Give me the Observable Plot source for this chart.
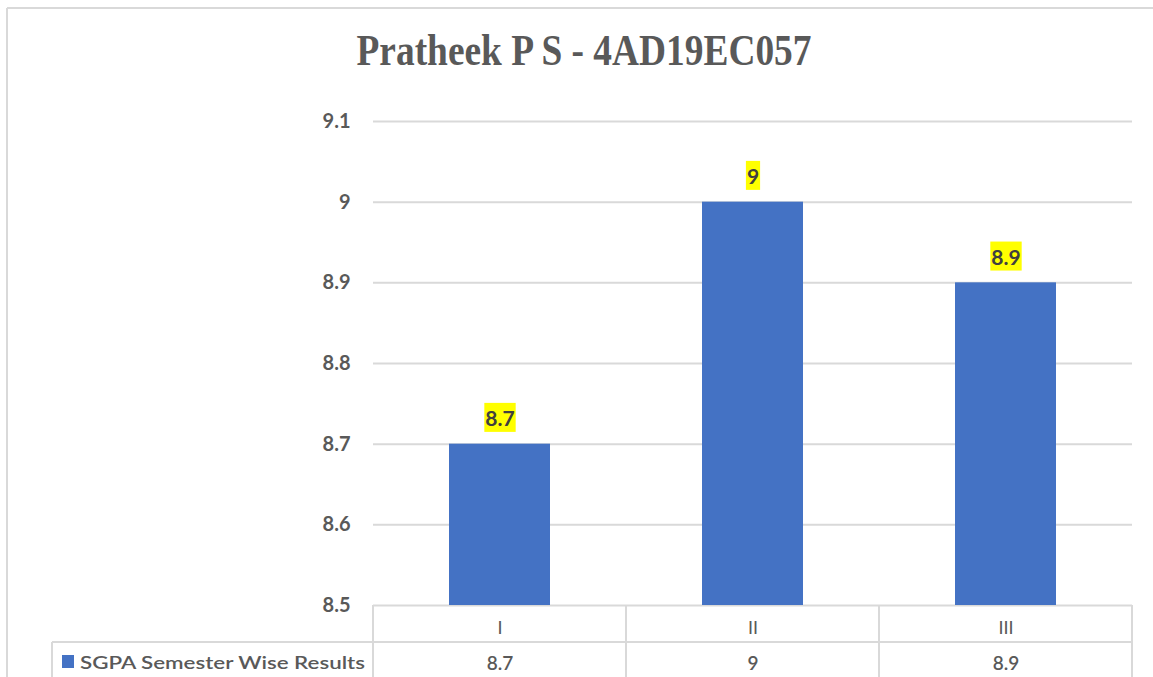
<!DOCTYPE html>
<html><head><meta charset="utf-8">
<script src="https://cdn.jsdelivr.net/npm/d3@7"></script>
<script src="https://cdn.jsdelivr.net/npm/@observablehq/plot@0.6"></script>
<style>
body{margin:0;background:#fff;}
#chart{position:relative;width:1153px;height:677px;overflow:hidden;}
</style></head><body><div id="chart"></div>
<script>
const title = "Pratheek P S - 4AD19EC057";
const semesters = ["I", "II", "III"];
const sgpa = [8.7, 9, 8.9];
const seriesName = "SGPA Semester Wise Results";
const yTicks = [8.5, 8.6, 8.7, 8.8, 8.9, 9.0, 9.1];
const barColor = "#4472C4";

const data = semesters.map((s, i) => ({sem: s, sgpa: sgpa[i]}));
const font = "Lato, 'Open Sans', sans-serif";
const grey = "#595959";
const lineC = "#d9d9d9";

const plot = Plot.plot({
  width: 1153, height: 677,
  marginLeft: 373, marginRight: 21, marginTop: 121, marginBottom: 72,
  style: {fontFamily: font, background: "white", overflow: "visible"},
  x: {domain: semesters, paddingInner: 0.6, paddingOuter: 0.3, axis: null},
  y: {domain: [8.5, 9.1], axis: null},
  marks: [
    Plot.gridY(yTicks, {stroke: lineC, strokeOpacity: 1, strokeWidth: 2}),
    Plot.axisY(yTicks, {tickSize: 0, tickPadding: 23, fontSize: 20, fontWeight: "bold", fill: grey,
      tickFormat: d => String(+d.toFixed(1)), label: null}),
    Plot.barY(data, {x: "sem", y1: 8.5, y2: "sgpa", fill: barColor}),
    Plot.text(data, {x: "sem", y: "sgpa", text: d => String(d.sgpa), dy: -25, lineAnchor: "middle",
      fontSize: 21, fontWeight: "bold", fill: "#404040", ariaDescription: "dlabel"}),
    Plot.text(data, {x: "sem", text: "sem", frameAnchor: "bottom", dy: 23, lineAnchor: "middle",
      fontSize: 18, fill: grey}),
    Plot.text(data, {x: "sem", text: d => String(d.sgpa), frameAnchor: "bottom", dy: 58, lineAnchor: "middle",
      fontSize: 19, fontWeight: 600, fill: grey})
  ]
});

document.getElementById("chart").appendChild(plot);
const svg = d3.select(plot);

// yellow highlight behind data labels
svg.selectAll('g[aria-description="dlabel"] text').each(function() {
  const b = this.getBBox();
  const t = this.getAttribute("transform");
  d3.select(this.parentNode).insert("rect", () => this)
    .attr("transform", t)
    .attr("x", b.x - 1).attr("y", b.y - 2).attr("width", b.width + 2).attr("height", b.height + 4)
    .attr("fill", "#FFFF00");
});

// data table lines using the x scale
const xs = plot.scale("x");
const [r0, r1] = xs.range;
const n = semesters.length;
const step = (r1 - r0) / n;
const yBase = plot.scale("y").apply(8.5);
const yRow = yBase + 37;
const deco = svg.append("g").attr("stroke", lineC).attr("stroke-width", 2).attr("fill", "none");
for (let i = 0; i <= n; i++) {
  const x = r0 + i * step;
  deco.append("line").attr("x1", x).attr("x2", x).attr("y1", yBase).attr("y2", 677);
}
deco.append("line").attr("x1", 52).attr("x2", r1).attr("y1", yRow).attr("y2", yRow);
deco.append("line").attr("x1", 52).attr("x2", 52).attr("y1", yRow).attr("y2", 677);
// outer chart border
deco.append("line").attr("x1", 7).attr("x2", 1153).attr("y1", 8).attr("y2", 8);
deco.append("line").attr("x1", 7).attr("x2", 7).attr("y1", 8).attr("y2", 677);

// legend key in table
svg.append("rect").attr("x", 62).attr("y", 655).attr("width", 12).attr("height", 13).attr("fill", barColor);
svg.append("text").attr("x", 80).attr("y", yRow + 21).attr("dy", "0.35em").attr("text-anchor", "start")
  .attr("font-size", 18).attr("font-weight", 600).attr("fill", grey)
  .attr("textLength", 285).attr("lengthAdjust", "spacingAndGlyphs")
  .text(seriesName);

// title
svg.append("text").attr("x", 584).attr("y", 65).attr("text-anchor", "middle")
  .attr("font-family", "'Liberation Serif', 'Times New Roman', serif").attr("font-weight", "bold")
  .attr("font-size", 44).attr("fill", grey)
  .attr("textLength", 455).attr("lengthAdjust", "spacingAndGlyphs")
  .text(title);
</script></body></html>
